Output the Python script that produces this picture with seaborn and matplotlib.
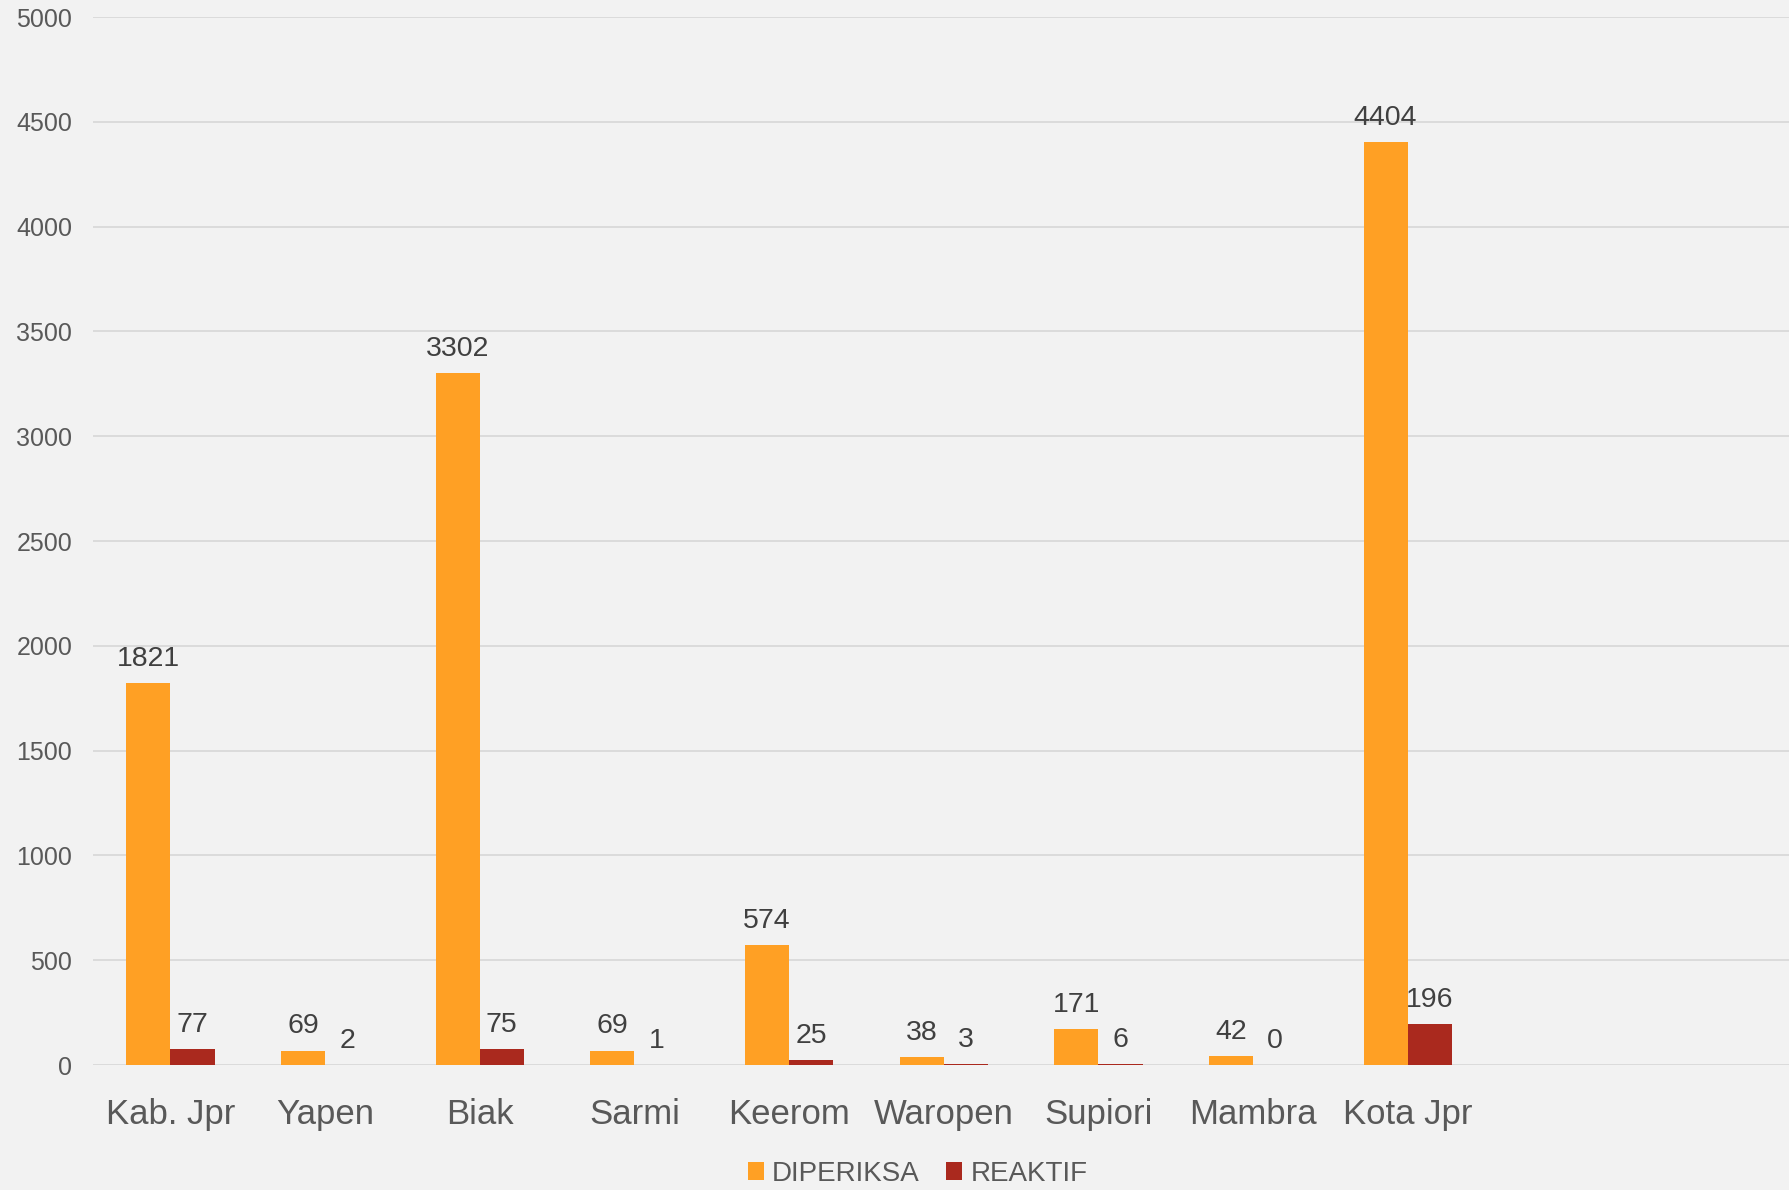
import numpy as np
import matplotlib.pyplot as plt
import pandas as pd
import matplotlib as mpl
import seaborn as sns

# data
regions = ['Kab. Jpr', 'Yapen', 'Biak', 'Sarmi', 'Keerom', 'Waropen',
           'Supiori', 'Mambra', 'Kota Jpr']
diperiksa = [1821, 69, 3302, 69, 574, 38, 171, 42, 4404]
reaktif = [77, 2, 75, 1, 25, 3, 6, 0, 196]
series = ['DIPERIKSA', 'REAKTIF']
colors = ['#FFA024', '#AA291E']

df = pd.DataFrame({
    'region': regions * 2,
    'series': [series[0]] * len(regions) + [series[1]] * len(regions),
    'value': diperiksa + reaktif,
})

sns.set_theme(style='white')
plt.rcParams['font.family'] = ['Liberation Sans', 'DejaVu Sans']
mpl.rc('figure', facecolor='#F2F2F2')
mpl.rc('axes', facecolor='#F2F2F2')

fig = plt.figure(figsize=(17.89, 11.90), dpi=100)
ax = fig.add_axes([0.052, 0.105, 0.951, 0.8807])

sns.barplot(data=df, x='region', y='value', hue='series', order=regions,
            hue_order=series, palette=colors, width=0.571, saturation=1,
            gap=0, linewidth=0, ax=ax, legend=True)

for c in ax.containers:
    ax.bar_label(c, fmt='%d', padding=8, fontsize=20.5, color='#404040')

ax.set_xlim(-0.5, 10.5)
ax.set_ylim(0, 5000)
ax.set_yticks(np.arange(0, 5001, 500))
ax.yaxis.grid(True, color='#D9D9D9', linewidth=1.3)
ax.set_axisbelow(True)
for s in ax.spines.values():
    s.set_visible(False)
ax.set_xlabel('')
ax.set_ylabel('')
ax.tick_params(axis='x', length=0, pad=24, labelsize=25, labelcolor='#595959')
ax.tick_params(axis='y', length=0, pad=15, labelsize=18, labelcolor='#595959')

handles, labels = ax.get_legend_handles_labels()
ax.legend(handles, labels, loc='center', bbox_to_anchor=(0.513, 0.0135),
          bbox_transform=fig.transFigure, ncol=2, frameon=False,
          fontsize=20, handlelength=0.58, handleheight=0.58,
          handletextpad=0.3, columnspacing=0.95, labelcolor='#595959')

plt.savefig('out.png', dpi=100, facecolor=fig.get_facecolor())
